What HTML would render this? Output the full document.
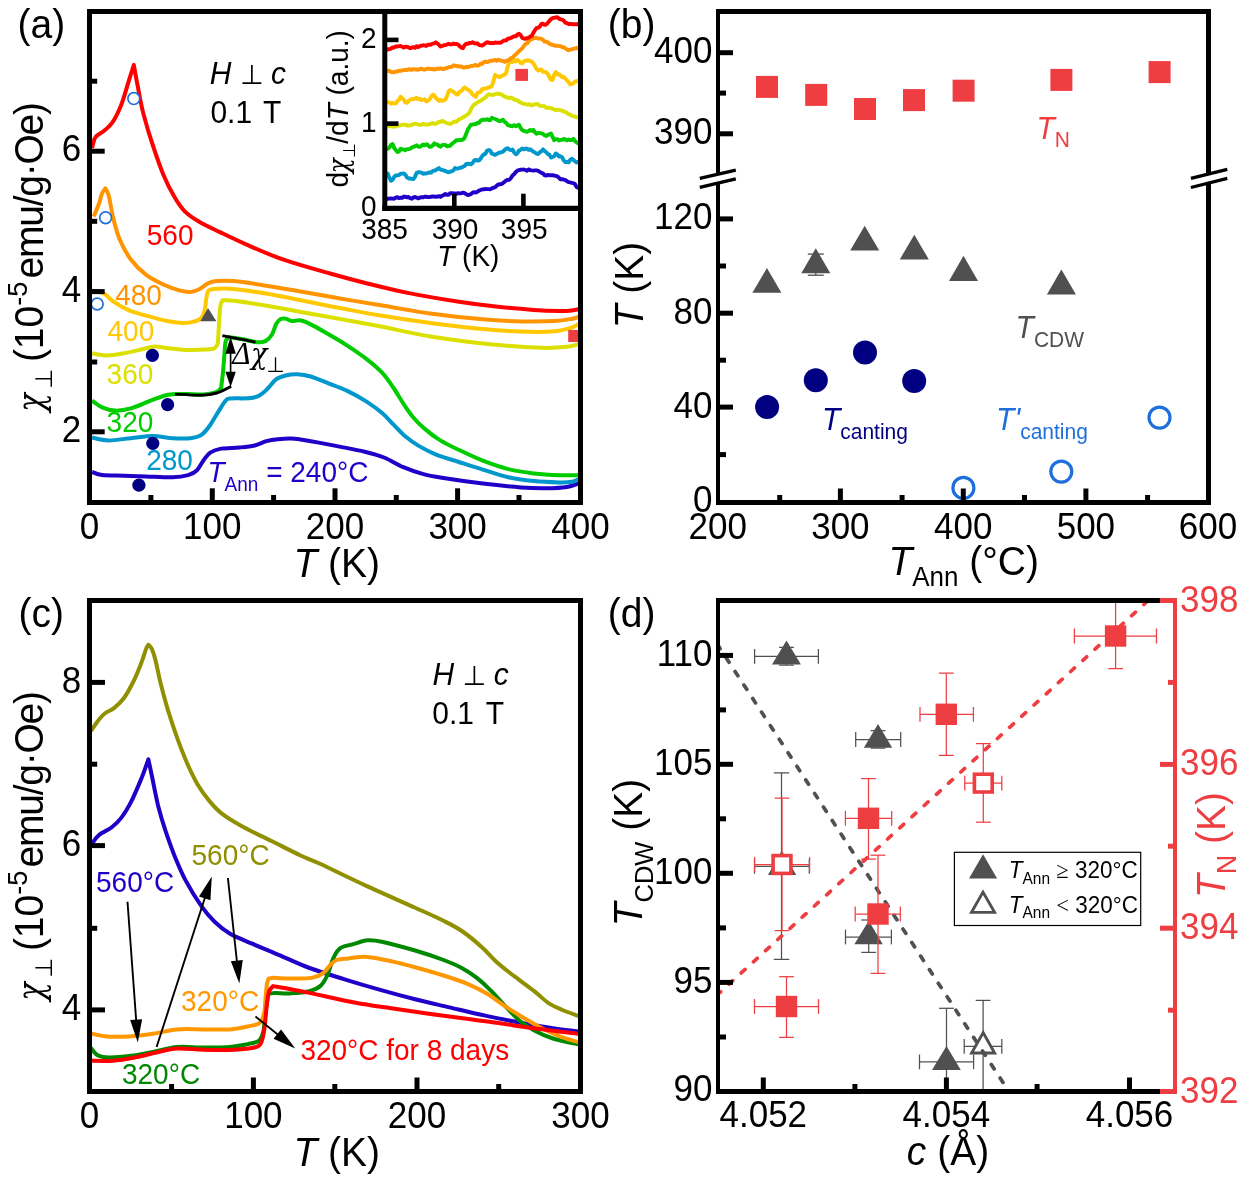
<!DOCTYPE html>
<html lang="en"><head><meta charset="utf-8"><title>Figure</title>
<style>html,body{margin:0;padding:0;background:#fff}svg{display:block}</style></head>
<body>
<svg width="1244" height="1178" viewBox="0 0 1244 1178" font-family='"Liberation Sans", sans-serif'>
<rect width="1244" height="1178" fill="#fff"/>
<defs>
<clipPath id="clipA"><rect x="89.6" y="11.5" width="491.3" height="490.5"/></clipPath>
<clipPath id="clipI"><rect x="384.8" y="11.5" width="196.1" height="196.9"/></clipPath>
<clipPath id="clipC"><rect x="90" y="600.8" width="490.8" height="490.2"/></clipPath>
<clipPath id="clipB"><rect x="718.6" y="11.5" width="490.2" height="490.5"/></clipPath>
<clipPath id="clipD"><rect x="718.7" y="600.8" width="456" height="490.6"/></clipPath>
</defs>
<g clip-path="url(#clipA)">
<path d="M92.1 472.0C93.8 472.5 96.8 474.5 102.1 475.1C107.4 475.7 116.8 475.5 124.1 475.7C131.4 475.9 138.1 476.1 146.2 476.4C154.3 476.7 165.7 477.5 172.7 477.3C179.7 477.1 184.0 476.3 188.1 475.1C192.2 473.9 194.4 472.7 197.0 470.2C199.6 467.7 201.4 463.2 203.6 460.3C205.8 457.4 207.3 454.6 210.2 452.6C213.1 450.7 216.3 449.5 221.2 448.6C226.0 447.8 233.7 448.0 239.3 447.5C244.9 447.0 250.2 446.6 254.7 445.5C259.2 444.4 262.4 442.2 266.3 441.1C270.2 440.1 273.7 439.6 277.9 439.2C282.1 438.8 286.6 438.4 291.4 438.6C296.2 438.8 299.4 439.3 306.8 440.5C314.2 441.7 326.2 444.0 335.8 445.9C345.4 447.8 356.7 449.8 364.7 451.7C372.7 453.6 377.6 454.9 384.0 457.5C390.4 460.1 396.9 464.5 403.3 467.2C409.7 469.9 416.2 472.1 422.6 473.9C429.0 475.7 431.9 476.2 441.9 477.8C451.9 479.4 469.6 482.0 482.8 483.6C496.0 485.2 510.4 486.6 521.0 487.4C531.6 488.2 538.9 488.3 546.5 488.2C554.1 488.1 561.6 487.7 566.9 486.9C572.2 486.1 575.8 484.4 578.3 483.6C580.8 482.8 581.4 482.3 582.0 482.0" fill="none" stroke="#2000C8" stroke-width="4" stroke-linejoin="round"/>
<path d="M92.1 437.5C94.9 438.0 102.2 440.3 108.7 440.4C115.2 440.5 123.5 438.9 130.8 438.2C138.2 437.5 145.8 436.0 152.8 436.0C159.8 436.0 166.4 437.8 172.7 438.2C179.0 438.6 185.6 438.8 190.4 438.2C195.2 437.6 198.1 437.1 201.4 434.9C204.7 432.7 207.3 429.1 210.2 425.0C213.1 420.9 216.4 414.7 219.0 410.6C221.6 406.6 223.8 402.7 225.7 400.7C227.5 398.7 225.9 398.9 230.1 398.5C234.3 398.1 245.8 398.7 250.9 398.1C256.0 397.5 257.6 396.5 260.5 394.8C263.4 393.1 265.6 390.6 268.2 388.0C270.8 385.4 273.1 381.5 276.0 379.4C278.9 377.3 282.1 376.4 285.6 375.5C289.1 374.6 293.0 374.0 297.2 374.2C301.4 374.4 305.6 375.0 310.7 376.5C315.8 378.0 321.9 380.8 328.0 383.2C334.1 385.6 340.9 387.8 347.3 390.9C353.7 394.0 360.8 397.9 366.6 401.6C372.4 405.3 377.6 409.2 382.1 413.1C386.6 417.0 389.8 420.8 393.6 424.7C397.5 428.6 401.0 432.8 405.2 436.3C409.4 439.8 413.5 442.8 418.7 445.9C423.9 448.9 429.7 452.0 436.1 454.6C442.6 457.2 449.6 459.0 457.4 461.5C465.2 464.0 474.3 467.0 482.8 469.6C491.3 472.2 499.8 475.4 508.3 477.3C516.8 479.2 525.3 480.2 533.8 481.1C542.3 482.0 552.8 482.3 559.2 482.4C565.6 482.5 568.8 482.3 572.0 481.8C575.2 481.3 576.6 480.0 578.3 479.3C580.0 478.6 581.4 477.8 582.0 477.5" fill="none" stroke="#0098CC" stroke-width="4" stroke-linejoin="round"/>
<path d="M92.1 400.7C93.8 401.8 98.2 405.6 102.1 407.3C106.0 409.0 110.5 410.4 115.3 410.6C120.1 410.8 124.9 410.0 130.8 408.4C136.7 406.8 144.3 403.0 150.6 400.7C156.8 398.4 162.4 395.8 168.3 394.7C174.2 393.6 180.0 394.1 185.9 394.1C191.8 394.1 198.4 394.9 203.6 394.5C208.8 394.1 213.9 393.1 216.8 391.9C219.7 390.7 220.5 388.2 221.2 387.5C221.5 384.9 222.4 377.9 223.0 372.0C223.6 366.1 224.2 357.2 224.6 352.1C225.0 347.0 225.0 343.6 225.7 341.1C226.4 338.6 228.4 337.8 229.0 337.1C231.4 337.5 238.7 338.5 243.3 339.3C247.9 340.1 252.9 341.9 256.6 342.2C260.3 342.5 262.8 342.4 265.4 341.1C268.0 339.8 270.2 337.4 272.0 334.5C273.8 331.6 274.9 326.1 276.4 323.5C277.9 320.9 279.3 319.8 280.8 319.0C282.3 318.2 283.8 318.3 285.6 318.6C287.4 318.9 288.8 320.6 291.4 320.9C294.0 321.2 297.8 319.9 301.0 320.5C304.2 321.1 306.2 322.1 310.7 324.4C315.2 326.6 321.9 330.5 328.0 334.0C334.1 337.5 340.9 341.4 347.3 345.6C353.7 349.8 360.8 354.6 366.6 359.1C372.4 363.6 377.6 367.8 382.1 372.6C386.6 377.4 390.1 382.9 393.6 388.0C397.1 393.1 400.1 398.7 403.3 403.5C406.5 408.3 409.4 412.8 412.9 417.0C416.4 421.2 420.0 424.8 424.5 428.6C429.0 432.5 434.4 436.7 439.9 440.1C445.4 443.5 450.2 445.8 457.4 449.2C464.5 452.6 474.3 457.4 482.8 460.7C491.3 464.0 499.8 467.0 508.3 469.1C516.8 471.2 525.3 472.4 533.8 473.4C542.3 474.4 551.2 474.9 559.2 475.2C567.2 475.5 578.2 475.2 582.0 475.2" fill="none" stroke="#00CC00" stroke-width="4" stroke-linejoin="round"/>
<path d="M92.1 353.3C94.5 353.7 101.2 355.5 106.5 355.5C111.8 355.5 117.5 354.5 124.1 353.3C130.7 352.1 141.0 349.3 146.2 348.2C151.3 347.1 151.3 346.6 155.0 346.6C158.7 346.6 163.2 347.6 168.3 348.2C173.5 348.8 179.7 349.7 185.9 349.9C192.2 350.1 201.0 349.8 205.8 349.5C210.6 349.2 212.6 349.2 214.6 348.2C216.6 347.2 217.3 344.1 217.9 343.3C218.1 340.0 218.6 329.8 219.0 323.5C219.4 317.2 219.8 309.7 220.4 305.8C221.0 301.9 222.2 301.2 222.6 300.3C224.6 300.4 226.9 299.9 234.5 300.8C242.1 301.8 254.5 303.7 268.2 306.0C281.9 308.3 298.8 311.5 316.5 314.7C334.2 317.9 355.2 321.6 374.4 325.3C393.6 329.0 413.8 333.7 431.9 336.7C450.0 339.7 467.9 341.8 482.8 343.5C497.7 345.2 510.4 346.1 521.0 346.8C531.6 347.5 538.9 347.9 546.5 347.9C554.1 347.9 561.6 347.4 566.9 346.8C572.2 346.2 575.8 344.9 578.3 344.3C580.8 343.7 581.4 343.2 582.0 343.0" fill="none" stroke="#DCE000" stroke-width="4" stroke-linejoin="round"/>
<path d="M92.5 290.5C94.5 291.0 100.9 291.9 104.3 293.7C107.7 295.5 109.0 298.6 113.1 301.4C117.1 304.1 123.1 307.8 128.6 310.2C134.1 312.6 139.6 313.8 146.2 315.7C152.8 317.6 162.1 320.1 168.3 321.3C174.6 322.5 179.3 323.0 183.7 323.0C188.1 323.0 191.9 322.2 194.8 321.3C197.8 320.4 199.8 319.8 201.4 317.9C203.1 316.0 203.9 313.3 204.7 310.2C205.5 307.1 205.6 302.3 206.2 299.2C206.8 296.1 207.0 293.2 208.0 291.5C209.0 289.8 208.7 289.6 212.4 289.2C216.1 288.8 220.9 288.1 230.1 288.8C239.3 289.6 255.8 291.8 267.6 293.7C279.4 295.6 288.6 297.9 300.7 300.3C312.8 302.7 326.6 305.5 340.0 308.0C353.4 310.5 365.6 313.0 380.9 315.5C396.2 318.0 414.9 320.9 431.9 323.2C448.9 325.4 467.9 327.6 482.8 329.0C497.7 330.4 509.5 331.2 521.0 331.6C532.5 332.0 543.5 332.2 551.6 331.6C559.7 331.1 565.0 329.5 569.4 328.3C573.8 327.1 576.2 325.4 578.3 324.4C580.4 323.4 581.4 322.8 582.0 322.5" fill="none" stroke="#FFC800" stroke-width="4" stroke-linejoin="round"/>
<path d="M93.7 216.4C94.5 214.4 97.4 208.2 98.8 204.3C100.2 200.4 101.0 195.8 102.1 193.2C103.2 190.5 104.9 189.2 105.4 188.4C106.0 189.6 107.4 190.6 108.7 195.4C110.0 200.2 111.3 210.1 113.1 217.5C114.9 224.9 116.8 232.6 119.7 239.6C122.7 246.6 126.4 253.6 130.8 259.5C135.2 265.4 140.7 270.7 146.2 274.9C151.7 279.1 158.4 282.2 163.9 284.8C169.4 287.4 174.9 289.2 179.3 290.4C183.7 291.6 187.1 292.1 190.4 291.9C193.7 291.7 196.3 290.6 199.2 289.2C202.1 287.8 205.1 284.6 208.0 283.3C210.9 282.0 212.4 281.5 216.8 281.1C221.2 280.7 226.0 280.3 234.5 281.1C243.0 281.9 256.6 284.2 267.6 285.9C278.6 287.6 288.6 289.4 300.7 291.5C312.8 293.6 326.6 296.2 340.0 298.5C353.4 300.8 365.6 302.8 380.9 305.3C396.2 307.8 414.9 311.4 431.9 313.7C448.9 316.0 467.9 318.0 482.8 319.3C497.7 320.6 509.1 321.1 521.0 321.4C532.9 321.7 545.6 321.5 554.1 321.1C562.6 320.7 568.0 319.5 572.0 318.8C576.0 318.1 576.6 317.4 578.3 316.8C580.0 316.2 581.4 315.7 582.0 315.5" fill="none" stroke="#FF9400" stroke-width="4" stroke-linejoin="round"/>
<path d="M92.1 148.0C92.2 147.5 92.2 146.8 92.8 145.0C93.4 143.2 93.7 139.4 95.6 137.0C97.5 134.6 101.3 133.2 104.1 130.7C106.9 128.2 109.8 126.5 112.6 122.2C115.4 118.0 118.4 111.9 121.1 105.2C123.8 98.5 126.4 88.5 128.5 81.8C130.6 75.1 132.9 67.8 133.8 65.0C134.5 68.9 136.5 80.1 138.1 88.2C139.7 96.3 140.9 104.2 143.4 113.7C145.9 123.2 149.5 135.2 152.9 145.5C156.3 155.8 160.1 166.8 163.6 175.3C167.1 183.8 170.7 190.5 174.2 196.5C177.7 202.5 180.6 207.2 184.8 211.4C189.0 215.7 193.6 218.5 199.6 222.0C205.6 225.5 212.4 228.5 220.9 232.6C229.4 236.7 239.9 241.8 250.6 246.4C261.3 251.0 271.8 255.7 285.0 260.2C298.2 264.7 316.1 269.6 330.0 273.5C343.9 277.4 355.5 280.5 368.2 283.7C380.9 286.9 391.5 289.6 406.4 292.6C421.3 295.6 442.5 299.2 457.4 301.5C472.3 303.8 482.9 305.2 495.6 306.6C508.3 308.0 523.2 309.2 533.8 309.9C544.4 310.6 552.8 310.8 559.2 310.9C565.6 311.0 568.8 310.7 572.0 310.4C575.2 310.1 576.6 309.6 578.3 309.2C580.0 308.8 581.4 308.2 582.0 308.0" fill="none" stroke="#FF0000" stroke-width="4" stroke-linejoin="round"/>
<line x1="222.40" y1="335.60" x2="255.50" y2="342.20" stroke="#000" stroke-width="2.9" />
<path d="M174.9 394.1C179.3 394.3 194.4 395.4 201.4 395.2C208.4 395.0 211.8 394.5 216.8 393.0C221.8 391.5 228.8 387.5 231.2 386.4" fill="none" stroke="#000" stroke-width="2.9" stroke-linejoin="round" stroke-linecap="butt" />
<path d="M230.60 336.80L235.80 353.80L225.40 353.80Z" fill="#000"/>
<path d="M230.60 387.00L225.40 371.80L235.80 371.80Z" fill="#000"/>
<line x1="230.60" y1="350.00" x2="230.60" y2="375.00" stroke="#000" stroke-width="1.6" />
<circle cx="133.80" cy="98.60" r="5.90" fill="#fff" stroke="#1E6EDC" stroke-width="1.7"/>
<circle cx="105.60" cy="217.80" r="5.90" fill="#fff" stroke="#1E6EDC" stroke-width="1.7"/>
<circle cx="97.20" cy="304.00" r="5.90" fill="#fff" stroke="#1E6EDC" stroke-width="1.7"/>
<circle cx="152.40" cy="355.40" r="6.60" fill="#000080" stroke="none" stroke-width="0"/>
<circle cx="167.60" cy="404.70" r="6.60" fill="#000080" stroke="none" stroke-width="0"/>
<circle cx="152.80" cy="443.30" r="6.60" fill="#000080" stroke="none" stroke-width="0"/>
<circle cx="138.90" cy="485.20" r="6.60" fill="#000080" stroke="none" stroke-width="0"/>
<path d="M208.00 308.00L216.40 321.30L200.30 321.30Z" fill="#505050" stroke="none" stroke-width="0" stroke-linejoin="miter"/>
<rect x="568.20" y="330.00" width="12.00" height="12.00" fill="#EE3E42" stroke="none" stroke-width="0" />
</g>
<g clip-path="url(#clipI)">
<path d="M383.0 198.2L384.6 199.2L386.2 199.4L387.8 198.6L389.4 198.6L391.0 198.4L392.6 198.6L394.2 198.7L395.8 197.6L397.4 197.1L399.0 198.1L400.6 197.6L402.2 197.9L403.8 196.6L405.4 196.8L407.0 197.4L408.6 197.0L410.2 198.2L411.8 198.7L413.4 197.4L415.0 197.0L416.6 197.6L418.2 198.4L419.8 197.7L421.4 197.2L423.0 197.4L424.6 196.7L426.2 196.8L427.8 197.0L429.4 197.1L431.0 196.7L432.6 196.5L434.2 196.5L435.8 196.8L437.4 196.7L439.0 196.2L440.6 196.8L442.2 195.7L443.8 195.0L445.4 194.0L447.0 194.8L448.6 194.7L450.2 193.3L451.8 193.1L453.4 193.5L455.0 193.5L456.6 193.8L458.2 193.1L459.8 193.4L461.4 193.3L463.0 192.6L464.6 193.1L466.2 194.2L467.8 195.0L469.4 194.6L471.0 194.1L472.6 192.7L474.2 192.2L475.8 192.6L477.4 191.8L479.0 190.6L480.6 190.0L482.2 189.4L483.8 189.3L485.4 189.0L487.0 189.1L488.6 189.1L490.2 189.2L491.8 188.4L493.4 187.7L495.0 187.4L496.6 185.8L498.2 184.5L499.8 184.3L501.4 184.1L503.0 183.1L504.6 181.8L506.2 180.4L507.8 179.9L509.4 179.9L511.0 177.9L512.6 175.3L514.2 174.2L515.8 172.0L517.4 170.6L519.0 170.1L520.6 169.7L522.2 169.6L523.8 169.5L525.4 170.0L527.0 170.8L528.6 169.4L530.2 170.1L531.8 170.4L533.4 170.6L535.0 170.4L536.6 170.4L538.2 170.8L539.8 171.8L541.4 172.8L543.0 173.3L544.6 175.4L546.2 175.6L547.8 174.9L549.4 175.2L551.0 175.3L552.6 175.3L554.2 175.5L555.8 176.0L557.4 176.4L559.0 177.8L560.6 179.4L562.2 179.2L563.8 179.7L565.4 180.1L567.0 181.2L568.6 182.1L570.2 182.4L571.8 182.8L573.4 183.1L575.0 184.2L576.6 187.0L578.2 187.9L579.8 187.0L581.4 186.6" fill="none" stroke="#2000C8" stroke-width="3.9" stroke-linejoin="round" />
<path d="M383.0 174.5L384.6 174.8L386.2 173.1L387.8 173.6L389.4 177.9L391.0 180.7L392.6 179.8L394.2 176.8L395.8 175.5L397.4 175.3L399.0 175.0L400.6 173.7L402.2 173.6L403.8 173.4L405.4 174.8L407.0 177.4L408.6 178.5L410.2 178.5L411.8 178.8L413.4 179.1L415.0 176.8L416.6 172.9L418.2 172.3L419.8 172.3L421.4 172.6L423.0 173.7L424.6 173.5L426.2 173.5L427.8 173.0L429.4 172.4L431.0 172.7L432.6 171.3L434.2 170.5L435.8 170.3L437.4 169.0L439.0 168.1L440.6 169.6L442.2 170.0L443.8 170.3L445.4 171.2L447.0 171.7L448.6 172.4L450.2 171.5L451.8 171.4L453.4 170.4L455.0 168.0L456.6 168.6L458.2 168.5L459.8 167.8L461.4 167.6L463.0 166.7L464.6 166.0L466.2 164.0L467.8 164.0L469.4 163.7L471.0 164.4L472.6 163.0L474.2 160.4L475.8 159.9L477.4 160.6L479.0 160.4L480.6 158.7L482.2 156.1L483.8 154.4L485.4 153.8L487.0 150.7L488.6 150.0L490.2 150.5L491.8 153.7L493.4 154.2L495.0 154.9L496.6 154.1L498.2 153.1L499.8 152.5L501.4 152.3L503.0 151.6L504.6 150.0L506.2 148.6L507.8 148.2L509.4 149.7L511.0 150.1L512.6 149.6L514.2 152.5L515.8 154.2L517.4 153.4L519.0 150.5L520.6 149.9L522.2 148.5L523.8 149.3L525.4 148.8L527.0 148.6L528.6 149.9L530.2 149.3L531.8 150.4L533.4 151.8L535.0 152.5L536.6 153.7L538.2 154.1L539.8 152.2L541.4 151.3L543.0 149.4L544.6 151.0L546.2 152.2L547.8 154.1L549.4 154.6L551.0 157.6L552.6 157.0L554.2 156.3L555.8 153.6L557.4 154.4L559.0 156.5L560.6 156.3L562.2 157.4L563.8 160.5L565.4 162.2L567.0 161.8L568.6 162.3L570.2 159.9L571.8 158.7L573.4 159.8L575.0 161.3L576.6 162.5L578.2 161.7L579.8 161.8L581.4 161.2" fill="none" stroke="#0098CC" stroke-width="3.9" stroke-linejoin="round" />
<path d="M383.0 148.7L384.6 149.2L386.2 148.9L387.8 148.8L389.4 147.6L391.0 144.9L392.6 144.1L394.2 148.0L395.8 150.1L397.4 152.0L399.0 151.6L400.6 148.8L402.2 149.4L403.8 149.5L405.4 150.2L407.0 149.2L408.6 149.1L410.2 148.9L411.8 147.4L413.4 146.9L415.0 146.3L416.6 145.3L418.2 146.6L419.8 146.9L421.4 145.9L423.0 144.5L424.6 145.3L426.2 144.3L427.8 144.9L429.4 146.8L431.0 146.9L432.6 145.5L434.2 143.3L435.8 144.4L437.4 144.5L439.0 146.0L440.6 146.7L442.2 145.2L443.8 144.9L445.4 144.9L447.0 146.4L448.6 145.8L450.2 145.7L451.8 144.0L453.4 142.8L455.0 141.3L456.6 140.2L458.2 140.3L459.8 139.9L461.4 140.1L463.0 139.5L464.6 137.9L466.2 133.7L467.8 129.8L469.4 127.0L471.0 124.7L472.6 124.5L474.2 124.2L475.8 124.0L477.4 123.0L479.0 122.8L480.6 120.6L482.2 119.7L483.8 119.6L485.4 119.8L487.0 119.3L488.6 120.1L490.2 120.1L491.8 117.8L493.4 118.5L495.0 119.0L496.6 119.6L498.2 120.7L499.8 121.1L501.4 120.7L503.0 119.8L504.6 121.9L506.2 122.7L507.8 125.2L509.4 125.4L511.0 126.1L512.6 126.2L514.2 125.2L515.8 126.2L517.4 125.4L519.0 124.8L520.6 127.9L522.2 130.1L523.8 130.9L525.4 131.4L527.0 131.9L528.6 131.0L530.2 130.0L531.8 130.9L533.4 129.9L535.0 132.3L536.6 133.7L538.2 132.9L539.8 133.0L541.4 133.3L543.0 133.8L544.6 135.3L546.2 136.0L547.8 134.9L549.4 134.3L551.0 133.6L552.6 136.8L554.2 140.1L555.8 139.3L557.4 139.1L559.0 140.5L560.6 139.9L562.2 139.8L563.8 138.9L565.4 139.6L567.0 140.4L568.6 139.5L570.2 140.1L571.8 140.1L573.4 138.9L575.0 141.0L576.6 142.4L578.2 143.5L579.8 142.9L581.4 143.5" fill="none" stroke="#00CC00" stroke-width="3.9" stroke-linejoin="round" />
<path d="M383.0 126.6L384.6 126.3L386.2 126.6L387.8 126.3L389.4 125.9L391.0 126.1L392.6 126.8L394.2 126.6L395.8 126.4L397.4 125.5L399.0 125.6L400.6 125.2L402.2 124.9L403.8 124.6L405.4 124.6L407.0 125.5L408.6 125.5L410.2 125.3L411.8 125.0L413.4 123.9L415.0 123.7L416.6 124.1L418.2 124.4L419.8 124.8L421.4 124.9L423.0 123.9L424.6 124.4L426.2 124.7L427.8 124.6L429.4 124.0L431.0 123.9L432.6 123.1L434.2 123.8L435.8 123.7L437.4 122.9L439.0 121.7L440.6 121.7L442.2 120.9L443.8 121.6L445.4 122.5L447.0 123.0L448.6 123.5L450.2 124.0L451.8 123.2L453.4 122.1L455.0 121.5L456.6 121.7L458.2 120.1L459.8 118.9L461.4 118.6L463.0 117.2L464.6 116.4L466.2 115.6L467.8 114.3L469.4 112.7L471.0 109.0L472.6 106.4L474.2 104.3L475.8 103.9L477.4 102.4L479.0 101.3L480.6 100.9L482.2 99.6L483.8 98.5L485.4 97.6L487.0 95.4L488.6 94.5L490.2 94.5L491.8 95.0L493.4 94.9L495.0 94.1L496.6 93.9L498.2 93.5L499.8 94.2L501.4 94.2L503.0 95.6L504.6 96.6L506.2 97.2L507.8 97.4L509.4 98.2L511.0 97.6L512.6 98.3L514.2 99.7L515.8 100.2L517.4 100.3L519.0 101.7L520.6 102.4L522.2 103.5L523.8 103.7L525.4 104.1L527.0 104.6L528.6 104.3L530.2 104.5L531.8 105.4L533.4 104.8L535.0 104.1L536.6 104.0L538.2 104.4L539.8 105.7L541.4 105.9L543.0 106.1L544.6 106.3L546.2 107.8L547.8 107.7L549.4 107.8L551.0 108.2L552.6 108.8L554.2 109.4L555.8 110.2L557.4 109.9L559.0 109.8L560.6 110.5L562.2 110.5L563.8 111.9L565.4 111.8L567.0 113.1L568.6 114.3L570.2 114.5L571.8 115.9L573.4 116.2L575.0 116.6L576.6 117.4L578.2 117.2L579.8 117.6L581.4 117.5" fill="none" stroke="#DCE000" stroke-width="3.9" stroke-linejoin="round" />
<path d="M383.0 100.8L384.6 101.1L386.2 101.3L387.8 102.0L389.4 102.5L391.0 103.7L392.6 102.8L394.2 103.5L395.8 103.3L397.4 101.1L399.0 99.8L400.6 96.7L402.2 98.0L403.8 99.8L405.4 102.4L407.0 102.9L408.6 100.8L410.2 99.8L411.8 98.8L413.4 99.2L415.0 98.7L416.6 97.8L418.2 99.3L419.8 98.8L421.4 100.0L423.0 99.6L424.6 99.3L426.2 101.4L427.8 100.7L429.4 99.5L431.0 97.0L432.6 94.8L434.2 95.1L435.8 98.1L437.4 99.3L439.0 100.9L440.6 99.8L442.2 100.8L443.8 100.4L445.4 99.4L447.0 96.2L448.6 91.5L450.2 90.0L451.8 90.7L453.4 91.9L455.0 93.0L456.6 94.5L458.2 94.1L459.8 91.5L461.4 91.0L463.0 88.9L464.6 87.4L466.2 88.6L467.8 89.6L469.4 90.6L471.0 92.0L472.6 94.7L474.2 95.5L475.8 96.9L477.4 93.1L479.0 92.3L480.6 91.9L482.2 89.0L483.8 89.0L485.4 88.1L487.0 88.4L488.6 87.3L490.2 87.0L491.8 86.2L493.4 81.4L495.0 74.8L496.6 75.9L498.2 76.7L499.8 77.2L501.4 76.1L503.0 75.3L504.6 74.7L506.2 72.9L507.8 66.2L509.4 62.3L511.0 62.0L512.6 62.1L514.2 60.1L515.8 61.4L517.4 59.8L519.0 61.0L520.6 62.9L522.2 63.4L523.8 61.1L525.4 60.9L527.0 60.3L528.6 60.5L530.2 61.2L531.8 61.7L533.4 63.5L535.0 66.0L536.6 69.2L538.2 70.6L539.8 69.6L541.4 69.5L543.0 71.9L544.6 71.9L546.2 72.4L547.8 74.0L549.4 77.0L551.0 79.9L552.6 80.0L554.2 74.5L555.8 72.0L557.4 74.6L559.0 74.2L560.6 75.7L562.2 77.3L563.8 76.9L565.4 78.7L567.0 80.5L568.6 82.0L570.2 84.4L571.8 84.1L573.4 83.3L575.0 81.4L576.6 81.5L578.2 80.2L579.8 80.3L581.4 81.5" fill="none" stroke="#FFC800" stroke-width="3.9" stroke-linejoin="round" />
<path d="M383.0 71.3L384.6 71.5L386.2 71.1L387.8 70.8L389.4 70.8L391.0 72.0L392.6 72.2L394.2 72.3L395.8 71.5L397.4 71.5L399.0 70.6L400.6 70.8L402.2 70.5L403.8 70.0L405.4 69.9L407.0 70.0L408.6 69.3L410.2 69.5L411.8 69.8L413.4 69.0L415.0 69.5L416.6 69.5L418.2 69.8L419.8 69.1L421.4 68.6L423.0 69.4L424.6 69.7L426.2 69.2L427.8 68.6L429.4 68.6L431.0 69.2L432.6 68.9L434.2 69.6L435.8 69.2L437.4 68.5L439.0 68.8L440.6 68.4L442.2 69.0L443.8 69.1L445.4 68.3L447.0 67.9L448.6 67.4L450.2 67.0L451.8 66.8L453.4 65.3L455.0 65.6L456.6 66.2L458.2 66.1L459.8 66.7L461.4 66.4L463.0 67.5L464.6 67.5L466.2 66.8L467.8 67.2L469.4 66.6L471.0 66.0L472.6 66.0L474.2 65.3L475.8 65.0L477.4 65.7L479.0 65.3L480.6 63.7L482.2 63.8L483.8 62.2L485.4 61.7L487.0 62.0L488.6 61.6L490.2 60.9L491.8 60.7L493.4 60.5L495.0 59.9L496.6 60.8L498.2 59.7L499.8 60.1L501.4 60.9L503.0 60.9L504.6 61.9L506.2 60.8L507.8 60.5L509.4 59.5L511.0 58.1L512.6 57.5L514.2 55.7L515.8 54.4L517.4 52.9L519.0 51.2L520.6 49.8L522.2 48.4L523.8 46.1L525.4 44.0L527.0 43.5L528.6 41.3L530.2 39.7L531.8 39.1L533.4 38.4L535.0 37.9L536.6 38.0L538.2 38.6L539.8 38.5L541.4 38.8L543.0 39.9L544.6 41.6L546.2 41.7L547.8 42.3L549.4 43.7L551.0 44.5L552.6 44.8L554.2 45.6L555.8 45.8L557.4 45.6L559.0 46.0L560.6 46.1L562.2 47.2L563.8 47.3L565.4 48.3L567.0 49.5L568.6 50.2L570.2 49.7L571.8 49.4L573.4 48.7L575.0 48.3L576.6 48.0L578.2 48.3L579.8 48.7L581.4 47.9" fill="none" stroke="#FF9400" stroke-width="3.9" stroke-linejoin="round" />
<path d="M383.0 49.7L384.6 49.3L386.2 50.1L387.8 49.1L389.4 49.3L391.0 48.6L392.6 47.4L394.2 47.5L395.8 46.4L397.4 46.5L399.0 46.1L400.6 46.0L402.2 46.7L403.8 47.6L405.4 46.7L407.0 46.7L408.6 47.4L410.2 48.2L411.8 47.7L413.4 47.1L415.0 47.8L416.6 46.2L418.2 47.1L419.8 46.2L421.4 45.6L423.0 45.3L424.6 45.4L426.2 46.0L427.8 44.7L429.4 44.7L431.0 44.5L432.6 43.6L434.2 43.4L435.8 42.3L437.4 43.3L439.0 45.0L440.6 46.5L442.2 46.0L443.8 45.2L445.4 45.1L447.0 44.5L448.6 43.8L450.2 44.4L451.8 44.4L453.4 43.6L455.0 44.0L456.6 44.0L458.2 44.6L459.8 46.3L461.4 47.7L463.0 48.2L464.6 45.2L466.2 43.8L467.8 43.8L469.4 42.8L471.0 43.1L472.6 42.3L474.2 43.2L475.8 43.6L477.4 43.3L479.0 44.9L480.6 45.4L482.2 45.5L483.8 44.5L485.4 43.4L487.0 42.2L488.6 42.5L490.2 43.2L491.8 42.8L493.4 43.2L495.0 42.4L496.6 42.9L498.2 42.6L499.8 42.8L501.4 42.3L503.0 41.0L504.6 40.4L506.2 40.3L507.8 38.7L509.4 38.6L511.0 37.8L512.6 37.2L514.2 36.2L515.8 36.4L517.4 34.6L519.0 33.8L520.6 35.1L522.2 37.9L523.8 38.5L525.4 38.9L527.0 38.1L528.6 37.6L530.2 36.6L531.8 35.8L533.4 32.7L535.0 30.1L536.6 28.0L538.2 27.7L539.8 26.6L541.4 23.9L543.0 23.8L544.6 24.9L546.2 24.5L547.8 22.8L549.4 20.9L551.0 19.1L552.6 18.0L554.2 17.9L555.8 17.4L557.4 17.3L559.0 18.7L560.6 19.3L562.2 19.6L563.8 20.7L565.4 22.7L567.0 23.2L568.6 24.2L570.2 23.9L571.8 24.0L573.4 24.3L575.0 24.1L576.6 24.4L578.2 24.0L579.8 24.8L581.4 24.0" fill="none" stroke="#FF0000" stroke-width="3.9" stroke-linejoin="round" />
</g>
<rect x="515.40" y="68.90" width="12.60" height="12.00" fill="#EE3E42" stroke="none" stroke-width="0" />
<rect x="89.50" y="11.50" width="491.00" height="491.00" fill="none" stroke="#000" stroke-width="5" />
<line x1="384.80" y1="11.50" x2="384.80" y2="210.90" stroke="#000" stroke-width="5" />
<line x1="382.30" y1="208.40" x2="580.50" y2="208.40" stroke="#000" stroke-width="5.4" />
<line x1="89.50" y1="151.20" x2="104.70" y2="151.20" stroke="#000" stroke-width="5" />
<text x="81.20" y="161.20" font-size="35" fill="#000" text-anchor="end" transform="translate(81.20 161.20) scale(1 1.035) translate(-81.20 -161.20)" >6</text>
<line x1="89.50" y1="291.60" x2="104.70" y2="291.60" stroke="#000" stroke-width="5" />
<text x="81.20" y="301.60" font-size="35" fill="#000" text-anchor="end" transform="translate(81.20 301.60) scale(1 1.035) translate(-81.20 -301.60)" >4</text>
<line x1="89.50" y1="431.80" x2="104.70" y2="431.80" stroke="#000" stroke-width="5" />
<text x="81.20" y="441.80" font-size="35" fill="#000" text-anchor="end" transform="translate(81.20 441.80) scale(1 1.035) translate(-81.20 -441.80)" >2</text>
<line x1="89.50" y1="81.20" x2="97.20" y2="81.20" stroke="#000" stroke-width="5" />
<line x1="89.50" y1="221.30" x2="97.20" y2="221.30" stroke="#000" stroke-width="5" />
<line x1="89.50" y1="362.00" x2="97.20" y2="362.00" stroke="#000" stroke-width="5" />
<text x="89.50" y="538.80" font-size="35" fill="#000" text-anchor="middle" transform="translate(89.50 538.80) scale(1 1.035) translate(-89.50 -538.80)" >0</text>
<line x1="212.30" y1="502.50" x2="212.30" y2="488.30" stroke="#000" stroke-width="5" />
<text x="212.30" y="538.80" font-size="35" fill="#000" text-anchor="middle" transform="translate(212.30 538.80) scale(1 1.035) translate(-212.30 -538.80)" >100</text>
<line x1="335.00" y1="502.50" x2="335.00" y2="488.30" stroke="#000" stroke-width="5" />
<text x="335.00" y="538.80" font-size="35" fill="#000" text-anchor="middle" transform="translate(335.00 538.80) scale(1 1.035) translate(-335.00 -538.80)" >200</text>
<line x1="457.60" y1="502.50" x2="457.60" y2="488.30" stroke="#000" stroke-width="5" />
<text x="457.60" y="538.80" font-size="35" fill="#000" text-anchor="middle" transform="translate(457.60 538.80) scale(1 1.035) translate(-457.60 -538.80)" >300</text>
<text x="580.50" y="538.80" font-size="35" fill="#000" text-anchor="middle" transform="translate(580.50 538.80) scale(1 1.035) translate(-580.50 -538.80)" >400</text>
<line x1="150.90" y1="502.50" x2="150.90" y2="495.00" stroke="#000" stroke-width="5" />
<line x1="273.60" y1="502.50" x2="273.60" y2="495.00" stroke="#000" stroke-width="5" />
<line x1="396.30" y1="502.50" x2="396.30" y2="495.00" stroke="#000" stroke-width="5" />
<line x1="519.00" y1="502.50" x2="519.00" y2="495.00" stroke="#000" stroke-width="5" />
<line x1="384.80" y1="39.90" x2="398.50" y2="39.90" stroke="#000" stroke-width="4.6" />
<line x1="384.80" y1="123.60" x2="398.50" y2="123.60" stroke="#000" stroke-width="4.6" />
<text x="376.50" y="48.10" font-size="28" fill="#000" text-anchor="end" transform="translate(376.50 48.10) scale(1 1.035) translate(-376.50 -48.10)" >2</text>
<text x="376.50" y="131.80" font-size="28" fill="#000" text-anchor="end" transform="translate(376.50 131.80) scale(1 1.035) translate(-376.50 -131.80)" >1</text>
<text x="376.50" y="216.50" font-size="28" fill="#000" text-anchor="end" transform="translate(376.50 216.50) scale(1 1.035) translate(-376.50 -216.50)" >0</text>
<text x="384.50" y="239.20" font-size="28" fill="#000" text-anchor="middle" transform="translate(384.50 239.20) scale(1 1.035) translate(-384.50 -239.20)" >385</text>
<line x1="454.30" y1="208.40" x2="454.30" y2="193.70" stroke="#000" stroke-width="4.6" />
<text x="455.10" y="239.20" font-size="28" fill="#000" text-anchor="middle" transform="translate(455.10 239.20) scale(1 1.035) translate(-455.10 -239.20)" >390</text>
<line x1="523.40" y1="208.40" x2="523.40" y2="193.70" stroke="#000" stroke-width="4.6" />
<text x="524.20" y="239.20" font-size="28" fill="#000" text-anchor="middle" transform="translate(524.20 239.20) scale(1 1.035) translate(-524.20 -239.20)" >395</text>
<text x="468.30" y="266.00" font-size="28" fill="#000" text-anchor="middle" transform="translate(468.30 266.00) scale(1 1.035) translate(-468.30 -266.00)" ><tspan font-style="italic">T</tspan> (K)</text>
<g transform="translate(347.9 186.4) rotate(-90)">
<text x="-1.20" y="0.00" font-size="28" fill="#000" text-anchor="start" transform="translate(-1.20 0.00) scale(1 1.035) translate(1.20 0.00)" >d</text>
<text x="13.20" y="0.50" font-size="27" fill="#000" text-anchor="start" font-family='"DejaVu Serif", "Liberation Serif", serif' font-style="italic" textLength="15" lengthAdjust="spacingAndGlyphs">χ</text>
<text x="28.60" y="6.90" font-size="17" fill="#000" text-anchor="start" font-family='"DejaVu Sans", sans-serif' >⊥</text>
<text x="42.70" y="0.00" font-size="28" fill="#000" text-anchor="start" transform="translate(42.70 0.00) scale(1 1.035) translate(-42.70 0.00)" >/d<tspan font-style="italic">T</tspan> (a.u.)</text>
</g>
<text x="146.80" y="245.30" font-size="28" fill="#FF0000" text-anchor="start" transform="translate(146.80 245.30) scale(1 1.035) translate(-146.80 -245.30)" >560</text>
<text x="115.20" y="304.70" font-size="28" fill="#FF9400" text-anchor="start" transform="translate(115.20 304.70) scale(1 1.035) translate(-115.20 -304.70)" >480</text>
<text x="107.50" y="341.40" font-size="28" fill="#FFC800" text-anchor="start" transform="translate(107.50 341.40) scale(1 1.035) translate(-107.50 -341.40)" >400</text>
<text x="106.60" y="383.70" font-size="28" fill="#DCE000" text-anchor="start" transform="translate(106.60 383.70) scale(1 1.035) translate(-106.60 -383.70)" >360</text>
<text x="106.60" y="432.30" font-size="28" fill="#00CC00" text-anchor="start" transform="translate(106.60 432.30) scale(1 1.035) translate(-106.60 -432.30)" >320</text>
<text x="146.20" y="469.90" font-size="28" fill="#0098CC" text-anchor="start" transform="translate(146.20 469.90) scale(1 1.035) translate(-146.20 -469.90)" >280</text>
<text x="207.50" y="482.30" font-size="28" fill="#2000C8" text-anchor="start" transform="translate(207.50 482.30) scale(1 1.035) translate(-207.50 -482.30)" ><tspan font-style="italic">T</tspan><tspan font-size="19" dy="8.3">Ann</tspan><tspan dy="-8.3"> = 240°C</tspan></text>
<text x="209.70" y="83.90" font-size="30" fill="#000" text-anchor="start" transform="translate(209.70 83.90) scale(1 1.035) translate(-209.70 -83.90)" font-style="italic">H</text>
<text x="252.05" y="83.90" font-size="27" fill="#000" text-anchor="middle" font-family='"DejaVu Sans", sans-serif' >⊥</text>
<text x="270.90" y="83.90" font-size="30" fill="#000" text-anchor="start" transform="translate(270.90 83.90) scale(1 1.035) translate(-270.90 -83.90)" font-style="italic">c</text>
<text x="210.40" y="122.60" font-size="30" fill="#000" text-anchor="start" transform="translate(210.40 122.60) scale(1 1.035) translate(-210.40 -122.60)" word-spacing="3.2">0.1 T</text>
<text x="232.20" y="363.80" font-size="31" fill="#000" text-anchor="start" font-family='"Liberation Serif", serif' font-style="italic">Δ</text>
<text x="251.00" y="364.00" font-size="29.5" fill="#000" text-anchor="start" font-family='"DejaVu Serif", "Liberation Serif", serif' font-style="italic" textLength="16.5" lengthAdjust="spacingAndGlyphs">χ</text>
<text x="266.30" y="371.60" font-size="21" fill="#000" text-anchor="start" font-family='"DejaVu Sans", sans-serif' >⊥</text>
<text x="17.50" y="38.00" font-size="39" fill="#000" text-anchor="start" transform="translate(17.50 38.00) scale(1 1.035) translate(-17.50 -38.00)" >(a)</text>
<text x="336.70" y="577.00" font-size="39" fill="#000" text-anchor="middle" transform="translate(336.70 577.00) scale(1 1.035) translate(-336.70 -577.00)" ><tspan font-style="italic">T</tspan> (K)</text>
<g transform="translate(42.60 412.00) rotate(-90)">
<text x="0.30" y="0.00" font-size="36" fill="#000" text-anchor="start" transform="translate(0.30 0.00) scale(1 1.035) translate(-0.30 0.00)" font-family='"DejaVu Serif", "Liberation Serif", serif' font-style="italic" textLength="18.5" lengthAdjust="spacingAndGlyphs">χ</text>
<text x="23.30" y="9.00" font-size="23" fill="#000" text-anchor="start" transform="translate(23.30 9.00) scale(1 1.035) translate(-23.30 -9.00)" font-family='"DejaVu Sans", sans-serif' >⊥</text>
<text x="49.90" y="0.00" font-size="39" fill="#000" text-anchor="start" transform="translate(49.90 0.00) scale(1 1.035) translate(-49.90 0.00)" >(10</text>
<text x="106.20" y="-16.00" font-size="27" fill="#000" text-anchor="start" transform="translate(106.20 -16.00) scale(1 1.035) translate(-106.20 16.00)" >-5</text>
<text x="133.50" y="0.00" font-size="39" fill="#000" text-anchor="start" transform="translate(133.50 0.00) scale(1 1.035) translate(-133.50 0.00)" textLength="176.5" lengthAdjust="spacing">emu/g·Oe)</text>
</g>
<g clip-path="url(#clipB)">
<circle cx="963.40" cy="487.90" r="10.50" fill="#fff" stroke="#1E6EDC" stroke-width="3.2"/>
<circle cx="1061.30" cy="471.60" r="10.50" fill="#fff" stroke="#1E6EDC" stroke-width="3.2"/>
<circle cx="1159.50" cy="417.60" r="10.50" fill="#fff" stroke="#1E6EDC" stroke-width="3.2"/>
</g>
<line x1="716.00" y1="11.50" x2="1211.00" y2="11.50" stroke="#000" stroke-width="5" />
<line x1="716.00" y1="502.50" x2="1211.00" y2="502.50" stroke="#000" stroke-width="5" />
<line x1="718.00" y1="9.00" x2="718.00" y2="505.00" stroke="#000" stroke-width="4" />
<line x1="1208.50" y1="9.00" x2="1208.50" y2="505.00" stroke="#000" stroke-width="5" />
<path d="M699.8 178.3L735.8 170.1L735.8 178.8L699.8 187.3Z" fill="#fff"/>
<path d="M1190.9 178.4L1227.3 169.3L1227.3 178.4L1190.9 187.5Z" fill="#fff"/>
<line x1="699.80" y1="178.30" x2="735.80" y2="170.10" stroke="#000" stroke-width="3.3" />
<line x1="699.80" y1="187.30" x2="735.80" y2="178.80" stroke="#000" stroke-width="3.3" />
<line x1="1190.90" y1="178.40" x2="1227.30" y2="169.30" stroke="#000" stroke-width="3.3" />
<line x1="1190.90" y1="187.50" x2="1227.30" y2="178.40" stroke="#000" stroke-width="3.3" />
<line x1="720.00" y1="52.70" x2="733.00" y2="52.70" stroke="#000" stroke-width="5" />
<text x="712.50" y="63.20" font-size="35" fill="#000" text-anchor="end" transform="translate(712.50 63.20) scale(1 1.035) translate(-712.50 -63.20)" >400</text>
<line x1="720.00" y1="133.80" x2="733.00" y2="133.80" stroke="#000" stroke-width="5" />
<text x="712.50" y="144.30" font-size="35" fill="#000" text-anchor="end" transform="translate(712.50 144.30) scale(1 1.035) translate(-712.50 -144.30)" >390</text>
<line x1="720.00" y1="218.90" x2="733.00" y2="218.90" stroke="#000" stroke-width="5" />
<text x="712.50" y="229.40" font-size="35" fill="#000" text-anchor="end" transform="translate(712.50 229.40) scale(1 1.035) translate(-712.50 -229.40)" >120</text>
<line x1="720.00" y1="313.20" x2="733.00" y2="313.20" stroke="#000" stroke-width="5" />
<text x="712.50" y="323.70" font-size="35" fill="#000" text-anchor="end" transform="translate(712.50 323.70) scale(1 1.035) translate(-712.50 -323.70)" >80</text>
<line x1="720.00" y1="407.10" x2="733.00" y2="407.10" stroke="#000" stroke-width="5" />
<text x="712.50" y="417.60" font-size="35" fill="#000" text-anchor="end" transform="translate(712.50 417.60) scale(1 1.035) translate(-712.50 -417.60)" >40</text>
<text x="712.50" y="512.50" font-size="35" fill="#000" text-anchor="end" transform="translate(712.50 512.50) scale(1 1.035) translate(-712.50 -512.50)" >0</text>
<line x1="720.00" y1="93.10" x2="726.00" y2="93.10" stroke="#000" stroke-width="5" />
<line x1="720.00" y1="266.00" x2="726.00" y2="266.00" stroke="#000" stroke-width="5" />
<line x1="720.00" y1="360.20" x2="726.00" y2="360.20" stroke="#000" stroke-width="5" />
<line x1="720.00" y1="454.60" x2="726.00" y2="454.60" stroke="#000" stroke-width="5" />
<text x="717.80" y="538.80" font-size="35" fill="#000" text-anchor="middle" transform="translate(717.80 538.80) scale(1 1.035) translate(-717.80 -538.80)" >200</text>
<line x1="840.40" y1="500.00" x2="840.40" y2="488.50" stroke="#000" stroke-width="5" />
<text x="840.40" y="538.80" font-size="35" fill="#000" text-anchor="middle" transform="translate(840.40 538.80) scale(1 1.035) translate(-840.40 -538.80)" >300</text>
<line x1="963.30" y1="500.00" x2="963.30" y2="488.50" stroke="#000" stroke-width="5" />
<text x="963.30" y="538.80" font-size="35" fill="#000" text-anchor="middle" transform="translate(963.30 538.80) scale(1 1.035) translate(-963.30 -538.80)" >400</text>
<line x1="1085.90" y1="500.00" x2="1085.90" y2="488.50" stroke="#000" stroke-width="5" />
<text x="1085.90" y="538.80" font-size="35" fill="#000" text-anchor="middle" transform="translate(1085.90 538.80) scale(1 1.035) translate(-1085.90 -538.80)" >500</text>
<text x="1208.00" y="538.80" font-size="35" fill="#000" text-anchor="middle" transform="translate(1208.00 538.80) scale(1 1.035) translate(-1208.00 -538.80)" >600</text>
<line x1="779.70" y1="500.00" x2="779.70" y2="495.00" stroke="#000" stroke-width="5" />
<line x1="902.10" y1="500.00" x2="902.10" y2="495.00" stroke="#000" stroke-width="5" />
<line x1="1024.50" y1="500.00" x2="1024.50" y2="495.00" stroke="#000" stroke-width="5" />
<line x1="1147.60" y1="500.00" x2="1147.60" y2="495.00" stroke="#000" stroke-width="5" />
<rect x="756.00" y="75.90" width="22.00" height="22.00" fill="#EE3E42" stroke="none" stroke-width="0" />
<rect x="805.20" y="83.90" width="22.00" height="22.00" fill="#EE3E42" stroke="none" stroke-width="0" />
<rect x="854.00" y="98.00" width="22.00" height="22.00" fill="#EE3E42" stroke="none" stroke-width="0" />
<rect x="903.00" y="89.10" width="22.00" height="22.00" fill="#EE3E42" stroke="none" stroke-width="0" />
<rect x="952.60" y="79.70" width="22.00" height="22.00" fill="#EE3E42" stroke="none" stroke-width="0" />
<rect x="1050.40" y="68.90" width="22.00" height="22.00" fill="#EE3E42" stroke="none" stroke-width="0" />
<rect x="1148.60" y="61.10" width="22.00" height="22.00" fill="#EE3E42" stroke="none" stroke-width="0" />
<line x1="815.80" y1="254.10" x2="815.80" y2="275.20" stroke="#505050" stroke-width="1.3" />
<line x1="807.80" y1="254.10" x2="823.80" y2="254.10" stroke="#505050" stroke-width="1.3" />
<line x1="807.80" y1="275.20" x2="823.80" y2="275.20" stroke="#505050" stroke-width="1.3" />
<path d="M766.90 268.10L781.40 292.80L752.40 292.80Z" fill="#505050" stroke="none" stroke-width="0" stroke-linejoin="miter"/>
<path d="M815.80 248.30L830.30 273.30L801.30 273.30Z" fill="#505050" stroke="none" stroke-width="0" stroke-linejoin="miter"/>
<path d="M864.70 225.70L879.20 250.40L850.20 250.40Z" fill="#505050" stroke="none" stroke-width="0" stroke-linejoin="miter"/>
<path d="M914.30 234.70L928.80 259.40L899.80 259.40Z" fill="#505050" stroke="none" stroke-width="0" stroke-linejoin="miter"/>
<path d="M963.50 255.80L978.00 280.90L949.00 280.90Z" fill="#505050" stroke="none" stroke-width="0" stroke-linejoin="miter"/>
<path d="M1061.40 269.60L1075.90 294.40L1046.90 294.40Z" fill="#505050" stroke="none" stroke-width="0" stroke-linejoin="miter"/>
<circle cx="767.10" cy="407.10" r="12.00" fill="#000080" stroke="none" stroke-width="0"/>
<circle cx="815.80" cy="380.30" r="12.00" fill="#000080" stroke="none" stroke-width="0"/>
<circle cx="865.00" cy="352.40" r="12.00" fill="#000080" stroke="none" stroke-width="0"/>
<circle cx="914.20" cy="381.10" r="12.00" fill="#000080" stroke="none" stroke-width="0"/>
<text x="1036.40" y="138.80" font-size="30" fill="#EE3E42" text-anchor="start" transform="translate(1036.40 138.80) scale(1 1.035) translate(-1036.40 -138.80)" ><tspan font-style="italic">T</tspan><tspan font-size="21" dy="7.7">N</tspan></text>
<text x="1015.60" y="337.80" font-size="30" fill="#505050" text-anchor="start" transform="translate(1015.60 337.80) scale(1 1.035) translate(-1015.60 -337.80)" ><tspan font-style="italic">T</tspan><tspan font-size="21" dy="8.9">CDW</tspan></text>
<text x="821.90" y="430.00" font-size="30" fill="#000080" text-anchor="start" transform="translate(821.90 430.00) scale(1 1.035) translate(-821.90 -430.00)" ><tspan font-style="italic">T</tspan><tspan font-size="21" dy="8.3">canting</tspan></text>
<text x="996.10" y="429.90" font-size="30" fill="#1E6EDC" text-anchor="start" transform="translate(996.10 429.90) scale(1 1.035) translate(-996.10 -429.90)" ><tspan font-style="italic">T'</tspan><tspan font-size="21" dy="8.6">canting</tspan></text>
<text x="888.40" y="575.00" font-size="39" fill="#000" text-anchor="start" transform="translate(888.40 575.00) scale(1 1.035) translate(-888.40 -575.00)" ><tspan font-style="italic">T</tspan><tspan font-size="26" dy="10.3">Ann</tspan><tspan dy="-10.3"> (°C)</tspan></text>
<text x="643.50" y="285.00" font-size="39" fill="#000" text-anchor="middle" transform="rotate(-90 643.50 285.00) translate(643.50 285.00) scale(1 1.035) translate(-643.50 -285.00)" ><tspan font-style="italic">T</tspan> (K)</text>
<text x="607.80" y="38.00" font-size="39" fill="#000" text-anchor="start" transform="translate(607.80 38.00) scale(1 1.035) translate(-607.80 -38.00)" >(b)</text>
<g clip-path="url(#clipC)">
<path d="M91.0 731.0C91.3 730.5 91.7 729.8 93.1 727.8C94.5 725.8 97.2 721.7 99.2 719.2C101.2 716.7 102.9 714.9 105.4 713.0C107.9 711.1 110.9 710.6 114.0 708.1C117.1 705.6 120.5 702.8 123.8 698.3C127.1 693.8 130.8 686.8 133.7 681.0C136.6 675.2 138.9 669.1 141.0 663.8C143.1 658.5 144.8 652.3 146.0 649.1C147.2 645.9 148.0 645.5 148.4 644.8C149.0 645.6 150.9 646.7 152.1 649.5C153.3 652.3 154.4 655.7 155.8 661.4C157.2 667.1 158.6 675.3 160.7 683.5C162.8 691.7 165.2 701.2 168.1 710.6C171.0 720.0 174.7 731.1 178.0 740.1C181.3 749.1 184.5 757.3 187.8 764.7C191.1 772.1 193.9 778.2 197.6 784.4C201.3 790.5 205.8 796.7 209.9 801.6C214.0 806.5 216.9 809.8 222.2 813.9C227.5 818.0 233.7 821.7 241.9 826.2C250.1 830.7 261.8 836.2 271.5 841.0C281.2 845.8 291.9 851.4 300.0 855.2C308.1 859.0 308.8 858.6 320.0 863.8C331.2 869.0 351.6 879.1 367.5 886.4C383.4 893.7 402.4 902.0 415.1 907.7C427.8 913.4 435.7 916.8 443.6 920.8C451.5 924.8 456.3 927.1 462.6 931.5C468.9 935.9 475.7 941.6 481.6 947.0C487.6 952.4 492.8 958.6 498.3 963.6C503.9 968.6 509.0 972.2 514.9 976.7C520.8 981.2 528.3 986.5 533.9 990.9C539.5 995.2 543.4 999.6 548.2 1002.8C553.0 1006.0 557.5 1007.8 562.5 1010.0C567.5 1012.2 575.1 1014.7 578.4 1015.9C581.6 1017.1 581.4 1016.8 582.0 1017.0" fill="none" stroke="#8F8F00" stroke-width="4" stroke-linejoin="round"/>
<path d="M91.0 847.0C91.3 846.2 91.7 844.2 93.1 842.2C94.5 840.2 96.1 837.2 99.2 834.8C102.3 832.3 107.8 830.4 111.5 827.5C115.2 824.6 118.1 821.9 121.4 817.6C124.7 813.3 127.9 808.0 131.2 801.6C134.5 795.2 138.1 786.5 141.0 779.5C143.9 772.5 147.2 762.7 148.4 759.3C149.0 762.2 150.4 769.1 152.1 777.0C153.8 784.9 156.1 797.5 158.3 806.5C160.6 815.5 162.7 822.5 165.6 831.1C168.5 839.7 172.2 850.1 175.5 858.2C178.8 866.3 181.0 871.9 185.3 879.9C189.6 887.9 196.5 899.2 201.4 906.2C206.3 913.2 209.8 917.1 214.6 921.7C219.4 926.3 223.8 930.1 230.1 933.8C236.4 937.5 244.1 940.2 252.2 943.7C260.3 947.2 269.1 950.8 278.6 954.8C288.2 958.8 298.6 964.0 309.5 968.0C320.4 972.0 332.2 975.5 343.8 979.1C355.4 982.7 367.5 986.3 379.4 989.7C391.3 993.1 403.2 996.3 415.1 999.3C427.0 1002.3 438.8 1004.8 450.7 1007.6C462.6 1010.4 474.5 1013.3 486.4 1015.9C498.3 1018.5 510.1 1020.8 522.0 1023.0C533.9 1025.2 547.7 1027.5 557.7 1029.0C567.7 1030.5 578.0 1031.2 582.0 1031.7" fill="none" stroke="#2000C8" stroke-width="4" stroke-linejoin="round"/>
<path d="M91.0 1048.0C92.1 1049.2 94.8 1053.6 97.7 1055.2C100.7 1056.8 103.2 1057.3 108.7 1057.4C114.2 1057.5 123.1 1056.8 130.8 1055.8C138.5 1054.8 147.3 1052.9 155.0 1051.4C162.7 1049.9 169.0 1047.7 177.1 1047.0C185.2 1046.3 194.8 1047.5 203.6 1047.5C212.4 1047.5 222.8 1047.6 230.1 1047.0C237.4 1046.4 242.9 1045.1 247.7 1044.1C252.5 1043.1 256.2 1042.8 258.8 1040.8C261.4 1038.8 262.1 1036.4 263.2 1032.0C264.3 1027.6 264.7 1019.8 265.4 1014.3C266.1 1008.8 266.7 1002.4 267.6 998.9C268.5 995.4 267.2 994.3 270.9 993.4C274.6 992.5 283.3 993.8 289.7 993.4C296.1 993.0 304.4 992.5 309.5 991.2C314.6 989.9 317.6 988.4 320.6 985.7C323.6 983.0 325.4 979.5 327.5 975.0C329.6 970.5 331.0 963.3 333.1 958.8C335.2 954.3 336.8 950.7 340.2 948.2C343.6 945.8 348.8 945.4 353.3 944.1C357.9 942.8 362.8 940.7 367.5 940.3C372.2 939.9 373.9 940.0 381.8 941.7C389.7 943.4 404.8 947.5 415.1 950.5C425.4 953.5 435.7 957.0 443.6 960.0C451.5 963.0 457.1 965.4 462.6 968.4C468.2 971.4 472.1 974.1 476.9 977.9C481.6 981.6 486.4 986.1 491.1 990.9C495.9 995.6 500.6 1001.4 505.4 1006.4C510.2 1011.4 515.0 1016.7 519.7 1020.7C524.5 1024.7 528.4 1027.2 533.9 1030.2C539.4 1033.2 544.9 1036.0 552.9 1038.5C560.9 1041.0 577.1 1043.9 582.0 1045.0" fill="none" stroke="#008800" stroke-width="4" stroke-linejoin="round"/>
<path d="M91.0 1033.5C93.6 1034.0 100.2 1035.9 106.5 1036.4C112.8 1036.9 120.9 1036.8 128.6 1036.4C136.3 1036.0 144.7 1035.0 152.8 1033.8C160.9 1032.6 168.6 1030.1 177.1 1029.4C185.6 1028.7 194.8 1029.4 203.6 1029.4C212.4 1029.4 222.8 1029.9 230.1 1029.4C237.4 1028.9 242.7 1027.6 247.7 1026.5C252.7 1025.4 257.1 1025.1 259.9 1022.7C262.7 1020.3 263.3 1016.8 264.3 1012.1C265.3 1007.4 265.2 999.6 265.8 994.5C266.4 989.4 266.6 984.0 267.6 981.2C268.6 978.4 268.3 978.3 272.0 977.9C275.7 977.5 283.1 978.6 289.7 978.6C296.3 978.6 306.2 978.8 311.7 977.9C317.2 977.0 319.8 975.5 322.8 973.5C325.8 971.5 327.2 968.2 329.5 966.0C331.8 963.8 333.4 961.3 336.6 960.0C339.8 958.7 343.4 958.9 348.5 958.4C353.6 957.9 360.4 956.4 367.5 956.9C374.6 957.4 383.4 959.5 391.3 961.2C399.2 962.9 406.4 964.8 415.1 967.2C423.8 969.6 434.9 972.7 443.6 975.5C452.3 978.3 460.3 980.8 467.4 983.8C474.5 986.8 480.1 989.5 486.4 993.3C492.7 997.1 499.1 1002.2 505.4 1006.4C511.7 1010.6 518.1 1014.5 524.4 1018.3C530.7 1022.1 537.0 1025.8 543.4 1029.0C549.8 1032.2 556.1 1035.0 562.5 1037.3C568.9 1039.6 578.8 1042.0 582.0 1043.0" fill="none" stroke="#FF9800" stroke-width="4" stroke-linejoin="round"/>
<path d="M91.0 1060.7C94.7 1060.7 105.7 1061.2 113.1 1060.7C120.5 1060.2 127.8 1058.8 135.2 1057.4C142.5 1056.0 150.2 1053.8 157.2 1052.3C164.2 1050.8 169.4 1049.0 177.1 1048.6C184.8 1048.2 194.0 1049.5 203.6 1049.7C213.2 1049.9 226.0 1050.1 234.5 1049.7C243.0 1049.3 250.0 1048.6 254.4 1047.5C258.8 1046.4 259.4 1046.0 261.0 1043.0C262.6 1040.0 263.4 1035.7 264.3 1029.8C265.2 1023.9 265.8 1014.0 266.5 1007.7C267.2 1001.5 267.6 995.9 268.7 992.3C269.8 988.7 272.4 987.1 273.1 986.1C275.9 986.6 283.3 987.8 289.7 989.0C296.1 990.2 300.7 991.1 311.7 993.4C322.7 995.7 342.4 1000.3 355.7 1002.8C369.0 1005.3 379.4 1006.5 391.3 1008.3C403.2 1010.1 415.1 1011.8 427.0 1013.5C438.9 1015.2 450.7 1016.7 462.6 1018.3C474.5 1019.9 486.4 1021.3 498.3 1023.0C510.2 1024.7 519.9 1026.4 533.9 1028.3C547.9 1030.2 574.0 1033.3 582.0 1034.3" fill="none" stroke="#FF0000" stroke-width="4" stroke-linejoin="round"/>
<path d="M137.80 1042.60L130.14 1020.10L142.11 1019.22Z" fill="#000"/>
<line x1="127.50" y1="901.80" x2="136.63" y2="1026.54" stroke="#000" stroke-width="1.9" />
<path d="M211.80 876.40L210.43 900.13L199.01 896.44Z" fill="#000"/>
<line x1="156.60" y1="1047.00" x2="206.84" y2="891.72" stroke="#000" stroke-width="1.9" />
<path d="M239.30 983.50L230.86 961.28L242.79 959.99Z" fill="#000"/>
<line x1="227.90" y1="878.00" x2="237.57" y2="967.49" stroke="#000" stroke-width="1.9" />
<path d="M295.20 1048.60L273.53 1038.84L281.06 1029.49Z" fill="#000"/>
<line x1="255.50" y1="1016.60" x2="282.67" y2="1038.50" stroke="#000" stroke-width="1.9" />
</g>
<rect x="89.50" y="600.50" width="491.00" height="491.00" fill="none" stroke="#000" stroke-width="5" />
<line x1="89.50" y1="682.40" x2="105.00" y2="682.40" stroke="#000" stroke-width="5" />
<text x="81.20" y="692.90" font-size="35" fill="#000" text-anchor="end" transform="translate(81.20 692.90) scale(1 1.035) translate(-81.20 -692.90)" >8</text>
<line x1="89.50" y1="845.60" x2="105.00" y2="845.60" stroke="#000" stroke-width="5" />
<text x="81.20" y="856.10" font-size="35" fill="#000" text-anchor="end" transform="translate(81.20 856.10) scale(1 1.035) translate(-81.20 -856.10)" >6</text>
<line x1="89.50" y1="1009.90" x2="105.00" y2="1009.90" stroke="#000" stroke-width="5" />
<text x="81.20" y="1020.40" font-size="35" fill="#000" text-anchor="end" transform="translate(81.20 1020.40) scale(1 1.035) translate(-81.20 -1020.40)" >4</text>
<line x1="89.50" y1="764.20" x2="97.20" y2="764.20" stroke="#000" stroke-width="5" />
<line x1="89.50" y1="928.30" x2="97.20" y2="928.30" stroke="#000" stroke-width="5" />
<text x="89.50" y="1127.80" font-size="35" fill="#000" text-anchor="middle" transform="translate(89.50 1127.80) scale(1 1.035) translate(-89.50 -1127.80)" >0</text>
<line x1="253.40" y1="1091.50" x2="253.40" y2="1077.50" stroke="#000" stroke-width="5" />
<text x="253.40" y="1127.80" font-size="35" fill="#000" text-anchor="middle" transform="translate(253.40 1127.80) scale(1 1.035) translate(-253.40 -1127.80)" >100</text>
<line x1="417.00" y1="1091.50" x2="417.00" y2="1077.50" stroke="#000" stroke-width="5" />
<text x="417.00" y="1127.80" font-size="35" fill="#000" text-anchor="middle" transform="translate(417.00 1127.80) scale(1 1.035) translate(-417.00 -1127.80)" >200</text>
<text x="580.50" y="1127.80" font-size="35" fill="#000" text-anchor="middle" transform="translate(580.50 1127.80) scale(1 1.035) translate(-580.50 -1127.80)" >300</text>
<line x1="171.60" y1="1091.50" x2="171.60" y2="1084.00" stroke="#000" stroke-width="5" />
<line x1="334.80" y1="1091.50" x2="334.80" y2="1084.00" stroke="#000" stroke-width="5" />
<line x1="498.70" y1="1091.50" x2="498.70" y2="1084.00" stroke="#000" stroke-width="5" />
<text x="96.00" y="892.20" font-size="28" fill="#2000C8" text-anchor="start" transform="translate(96.00 892.20) scale(1 1.035) translate(-96.00 -892.20)" >560°C</text>
<text x="191.50" y="865.00" font-size="28" fill="#8F8F00" text-anchor="start" transform="translate(191.50 865.00) scale(1 1.035) translate(-191.50 -865.00)" >560°C</text>
<text x="181.00" y="1011.40" font-size="28" fill="#FF9800" text-anchor="start" transform="translate(181.00 1011.40) scale(1 1.035) translate(-181.00 -1011.40)" >320°C</text>
<text x="122.00" y="1083.80" font-size="28" fill="#008800" text-anchor="start" transform="translate(122.00 1083.80) scale(1 1.035) translate(-122.00 -1083.80)" >320°C</text>
<text x="300.40" y="1060.00" font-size="28" fill="#FF0000" text-anchor="start" transform="translate(300.40 1060.00) scale(1 1.035) translate(-300.40 -1060.00)" >320°C for 8 days</text>
<text x="432.60" y="685.00" font-size="30" fill="#000" text-anchor="start" transform="translate(432.60 685.00) scale(1 1.035) translate(-432.60 -685.00)" font-style="italic">H</text>
<text x="474.50" y="685.00" font-size="27" fill="#000" text-anchor="middle" font-family='"DejaVu Sans", sans-serif' >⊥</text>
<text x="493.80" y="685.00" font-size="30" fill="#000" text-anchor="start" transform="translate(493.80 685.00) scale(1 1.035) translate(-493.80 -685.00)" font-style="italic">c</text>
<text x="432.20" y="724.00" font-size="30" fill="#000" text-anchor="start" transform="translate(432.20 724.00) scale(1 1.035) translate(-432.20 -724.00)" word-spacing="4">0.1 T</text>
<text x="18.50" y="627.00" font-size="39" fill="#000" text-anchor="start" transform="translate(18.50 627.00) scale(1 1.035) translate(-18.50 -627.00)" >(c)</text>
<text x="336.70" y="1166.00" font-size="39" fill="#000" text-anchor="middle" transform="translate(336.70 1166.00) scale(1 1.035) translate(-336.70 -1166.00)" ><tspan font-style="italic">T</tspan> (K)</text>
<g transform="translate(42.60 1001.00) rotate(-90)">
<text x="0.30" y="0.00" font-size="36" fill="#000" text-anchor="start" transform="translate(0.30 0.00) scale(1 1.035) translate(-0.30 0.00)" font-family='"DejaVu Serif", "Liberation Serif", serif' font-style="italic" textLength="18.5" lengthAdjust="spacingAndGlyphs">χ</text>
<text x="23.30" y="9.00" font-size="23" fill="#000" text-anchor="start" transform="translate(23.30 9.00) scale(1 1.035) translate(-23.30 -9.00)" font-family='"DejaVu Sans", sans-serif' >⊥</text>
<text x="49.90" y="0.00" font-size="39" fill="#000" text-anchor="start" transform="translate(49.90 0.00) scale(1 1.035) translate(-49.90 0.00)" >(10</text>
<text x="106.20" y="-16.00" font-size="27" fill="#000" text-anchor="start" transform="translate(106.20 -16.00) scale(1 1.035) translate(-106.20 16.00)" >-5</text>
<text x="133.50" y="0.00" font-size="39" fill="#000" text-anchor="start" transform="translate(133.50 0.00) scale(1 1.035) translate(-133.50 0.00)" textLength="176.5" lengthAdjust="spacing">emu/g·Oe)</text>
</g>
<g clip-path="url(#clipD)">
<line x1="754.60" y1="656.40" x2="818.40" y2="656.40" stroke="#505050" stroke-width="1.25" />
<line x1="754.60" y1="649.00" x2="754.60" y2="663.80" stroke="#505050" stroke-width="1.25" />
<line x1="818.40" y1="649.00" x2="818.40" y2="663.80" stroke="#505050" stroke-width="1.25" />
<line x1="786.50" y1="647.40" x2="786.50" y2="665.00" stroke="#505050" stroke-width="1.25" />
<line x1="779.10" y1="647.40" x2="793.90" y2="647.40" stroke="#505050" stroke-width="1.25" />
<line x1="779.10" y1="665.00" x2="793.90" y2="665.00" stroke="#505050" stroke-width="1.25" />
<path d="M786.50 640.40L800.90 664.40L772.00 664.40Z" fill="#505050" stroke="none" stroke-width="0" stroke-linejoin="miter"/>
<line x1="855.70" y1="739.50" x2="900.70" y2="739.50" stroke="#505050" stroke-width="1.25" />
<line x1="855.70" y1="732.10" x2="855.70" y2="746.90" stroke="#505050" stroke-width="1.25" />
<line x1="900.70" y1="732.10" x2="900.70" y2="746.90" stroke="#505050" stroke-width="1.25" />
<line x1="878.00" y1="730.50" x2="878.00" y2="748.00" stroke="#505050" stroke-width="1.25" />
<line x1="870.60" y1="730.50" x2="885.40" y2="730.50" stroke="#505050" stroke-width="1.25" />
<line x1="870.60" y1="748.00" x2="885.40" y2="748.00" stroke="#505050" stroke-width="1.25" />
<path d="M878.00 724.00L892.20 747.70L863.90 747.70Z" fill="#505050" stroke="none" stroke-width="0" stroke-linejoin="miter"/>
<line x1="754.50" y1="866.40" x2="809.30" y2="866.40" stroke="#505050" stroke-width="1.25" />
<line x1="754.50" y1="859.00" x2="754.50" y2="873.80" stroke="#505050" stroke-width="1.25" />
<line x1="809.30" y1="859.00" x2="809.30" y2="873.80" stroke="#505050" stroke-width="1.25" />
<line x1="781.50" y1="772.90" x2="781.50" y2="959.40" stroke="#505050" stroke-width="1.25" />
<line x1="773.80" y1="772.90" x2="789.20" y2="772.90" stroke="#505050" stroke-width="1.25" />
<line x1="773.80" y1="959.40" x2="789.20" y2="959.40" stroke="#505050" stroke-width="1.25" />
<path d="M781.80 850.50L796.30 874.90L768.00 874.90Z" fill="#505050" stroke="none" stroke-width="0" stroke-linejoin="miter"/>
<line x1="845.50" y1="937.00" x2="891.40" y2="937.00" stroke="#505050" stroke-width="1.25" />
<line x1="845.50" y1="929.60" x2="845.50" y2="944.40" stroke="#505050" stroke-width="1.25" />
<line x1="891.40" y1="929.60" x2="891.40" y2="944.40" stroke="#505050" stroke-width="1.25" />
<line x1="868.70" y1="920.00" x2="868.70" y2="952.40" stroke="#505050" stroke-width="1.25" />
<line x1="861.30" y1="920.00" x2="876.10" y2="920.00" stroke="#505050" stroke-width="1.25" />
<line x1="861.30" y1="952.40" x2="876.10" y2="952.40" stroke="#505050" stroke-width="1.25" />
<path d="M868.70 920.80L882.80 944.30L854.40 944.30Z" fill="#505050" stroke="none" stroke-width="0" stroke-linejoin="miter"/>
<line x1="919.50" y1="1061.80" x2="973.60" y2="1061.80" stroke="#505050" stroke-width="1.25" />
<line x1="919.50" y1="1054.40" x2="919.50" y2="1069.20" stroke="#505050" stroke-width="1.25" />
<line x1="973.60" y1="1054.40" x2="973.60" y2="1069.20" stroke="#505050" stroke-width="1.25" />
<line x1="946.50" y1="1008.30" x2="946.50" y2="1115.00" stroke="#505050" stroke-width="1.25" />
<line x1="939.10" y1="1008.30" x2="953.90" y2="1008.30" stroke="#505050" stroke-width="1.25" />
<line x1="939.10" y1="1115.00" x2="953.90" y2="1115.00" stroke="#505050" stroke-width="1.25" />
<path d="M946.50 1045.90L960.80 1070.10L932.00 1070.10Z" fill="#505050" stroke="none" stroke-width="0" stroke-linejoin="miter"/>
<line x1="964.20" y1="1046.30" x2="1001.80" y2="1046.30" stroke="#505050" stroke-width="1.25" />
<line x1="964.20" y1="1038.90" x2="964.20" y2="1053.70" stroke="#505050" stroke-width="1.25" />
<line x1="1001.80" y1="1038.90" x2="1001.80" y2="1053.70" stroke="#505050" stroke-width="1.25" />
<line x1="983.10" y1="1000.40" x2="983.10" y2="1115.00" stroke="#505050" stroke-width="1.25" />
<line x1="975.70" y1="1000.40" x2="990.50" y2="1000.40" stroke="#505050" stroke-width="1.25" />
<line x1="975.70" y1="1115.00" x2="990.50" y2="1115.00" stroke="#505050" stroke-width="1.25" />
<path d="M983.2 1032.6L994.6 1053.05L971.6 1053.05Z" fill="#fff" stroke="#505050" stroke-width="2.9"/>
<line x1="718.00" y1="645.30" x2="1004.00" y2="1084.00" stroke="#505050" stroke-width="3.7" stroke-dasharray="5.2 10.98" stroke-dashoffset="1.15" stroke-linecap="round"/>
<line x1="718.80" y1="993.50" x2="1155.00" y2="594.30" stroke="#EE3E42" stroke-width="3.7" stroke-dasharray="5.2 11.34" stroke-dashoffset="2.7" stroke-linecap="round"/>
<line x1="754.50" y1="1006.50" x2="818.50" y2="1006.50" stroke="#EE3E42" stroke-width="1.25" />
<line x1="754.50" y1="999.10" x2="754.50" y2="1013.90" stroke="#EE3E42" stroke-width="1.25" />
<line x1="818.50" y1="999.10" x2="818.50" y2="1013.90" stroke="#EE3E42" stroke-width="1.25" />
<line x1="786.50" y1="976.70" x2="786.50" y2="1037.40" stroke="#EE3E42" stroke-width="1.25" />
<line x1="779.10" y1="976.70" x2="793.90" y2="976.70" stroke="#EE3E42" stroke-width="1.25" />
<line x1="779.10" y1="1037.40" x2="793.90" y2="1037.40" stroke="#EE3E42" stroke-width="1.25" />
<rect x="775.80" y="995.80" width="21.40" height="21.40" fill="#EE3E42" stroke="none" stroke-width="0" />
<line x1="754.60" y1="864.50" x2="809.60" y2="864.50" stroke="#EE3E42" stroke-width="1.25" />
<line x1="754.60" y1="857.10" x2="754.60" y2="871.90" stroke="#EE3E42" stroke-width="1.25" />
<line x1="809.60" y1="857.10" x2="809.60" y2="871.90" stroke="#EE3E42" stroke-width="1.25" />
<line x1="782.00" y1="798.10" x2="782.00" y2="930.60" stroke="#EE3E42" stroke-width="1.25" />
<line x1="774.60" y1="798.10" x2="789.40" y2="798.10" stroke="#EE3E42" stroke-width="1.25" />
<line x1="774.60" y1="930.60" x2="789.40" y2="930.60" stroke="#EE3E42" stroke-width="1.25" />
<rect x="773.10" y="855.60" width="17.80" height="17.80" fill="#fff" stroke="#EE3E42" stroke-width="3.6" />
<line x1="845.40" y1="818.30" x2="891.70" y2="818.30" stroke="#EE3E42" stroke-width="1.25" />
<line x1="845.40" y1="810.90" x2="845.40" y2="825.70" stroke="#EE3E42" stroke-width="1.25" />
<line x1="891.70" y1="810.90" x2="891.70" y2="825.70" stroke="#EE3E42" stroke-width="1.25" />
<line x1="868.50" y1="778.60" x2="868.50" y2="859.10" stroke="#EE3E42" stroke-width="1.25" />
<line x1="861.10" y1="778.60" x2="875.90" y2="778.60" stroke="#EE3E42" stroke-width="1.25" />
<line x1="861.10" y1="859.10" x2="875.90" y2="859.10" stroke="#EE3E42" stroke-width="1.25" />
<rect x="857.80" y="807.60" width="21.40" height="21.40" fill="#EE3E42" stroke="none" stroke-width="0" />
<line x1="855.20" y1="914.00" x2="900.30" y2="914.00" stroke="#EE3E42" stroke-width="1.25" />
<line x1="855.20" y1="906.60" x2="855.20" y2="921.40" stroke="#EE3E42" stroke-width="1.25" />
<line x1="900.30" y1="906.60" x2="900.30" y2="921.40" stroke="#EE3E42" stroke-width="1.25" />
<line x1="878.00" y1="855.20" x2="878.00" y2="973.40" stroke="#EE3E42" stroke-width="1.25" />
<line x1="870.60" y1="855.20" x2="885.40" y2="855.20" stroke="#EE3E42" stroke-width="1.25" />
<line x1="870.60" y1="973.40" x2="885.40" y2="973.40" stroke="#EE3E42" stroke-width="1.25" />
<rect x="867.30" y="903.30" width="21.40" height="21.40" fill="#EE3E42" stroke="none" stroke-width="0" />
<line x1="920.00" y1="714.30" x2="973.40" y2="714.30" stroke="#EE3E42" stroke-width="1.25" />
<line x1="920.00" y1="706.90" x2="920.00" y2="721.70" stroke="#EE3E42" stroke-width="1.25" />
<line x1="973.40" y1="706.90" x2="973.40" y2="721.70" stroke="#EE3E42" stroke-width="1.25" />
<line x1="946.30" y1="673.20" x2="946.30" y2="755.30" stroke="#EE3E42" stroke-width="1.25" />
<line x1="938.90" y1="673.20" x2="953.70" y2="673.20" stroke="#EE3E42" stroke-width="1.25" />
<line x1="938.90" y1="755.30" x2="953.70" y2="755.30" stroke="#EE3E42" stroke-width="1.25" />
<rect x="935.60" y="703.60" width="21.40" height="21.40" fill="#EE3E42" stroke="none" stroke-width="0" />
<line x1="964.80" y1="783.10" x2="1001.80" y2="783.10" stroke="#EE3E42" stroke-width="1.25" />
<line x1="964.80" y1="775.70" x2="964.80" y2="790.50" stroke="#EE3E42" stroke-width="1.25" />
<line x1="1001.80" y1="775.70" x2="1001.80" y2="790.50" stroke="#EE3E42" stroke-width="1.25" />
<line x1="983.30" y1="743.60" x2="983.30" y2="822.20" stroke="#EE3E42" stroke-width="1.25" />
<line x1="975.90" y1="743.60" x2="990.70" y2="743.60" stroke="#EE3E42" stroke-width="1.25" />
<line x1="975.90" y1="822.20" x2="990.70" y2="822.20" stroke="#EE3E42" stroke-width="1.25" />
<rect x="974.40" y="774.20" width="17.80" height="17.80" fill="#fff" stroke="#EE3E42" stroke-width="3.6" />
<line x1="1074.40" y1="636.00" x2="1156.50" y2="636.00" stroke="#EE3E42" stroke-width="1.25" />
<line x1="1074.40" y1="628.60" x2="1074.40" y2="643.40" stroke="#EE3E42" stroke-width="1.25" />
<line x1="1156.50" y1="628.60" x2="1156.50" y2="643.40" stroke="#EE3E42" stroke-width="1.25" />
<line x1="1115.60" y1="590.00" x2="1115.60" y2="668.60" stroke="#EE3E42" stroke-width="1.25" />
<line x1="1108.20" y1="590.00" x2="1123.00" y2="590.00" stroke="#EE3E42" stroke-width="1.25" />
<line x1="1108.20" y1="668.60" x2="1123.00" y2="668.60" stroke="#EE3E42" stroke-width="1.25" />
<rect x="1104.90" y="625.30" width="21.40" height="21.40" fill="#EE3E42" stroke="none" stroke-width="0" />
</g>
<rect x="954.40" y="852.30" width="186.30" height="73.20" fill="#fff" stroke="#000" stroke-width="1.2" />
<path d="M983.00 854.30L997.10 878.40L969.00 878.40Z" fill="#505050" stroke="none" stroke-width="0" stroke-linejoin="miter"/>
<path d="M983 892.1L994.6 912.35L971.5 912.35Z" fill="#fff" stroke="#505050" stroke-width="2.9"/>
<text x="1008.80" y="878.00" font-size="22.5" fill="#000" text-anchor="start" transform="translate(1008.80 878.00) scale(1 1.035) translate(-1008.80 -878.00)" ><tspan font-style="italic">T</tspan><tspan font-size="15.5" dy="5.7">Ann</tspan><tspan dy="-5.7"> </tspan><tspan font-family='"Liberation Serif", serif'>≥</tspan> 320°C</text>
<text x="1008.80" y="912.60" font-size="22.5" fill="#000" text-anchor="start" transform="translate(1008.80 912.60) scale(1 1.035) translate(-1008.80 -912.60)" ><tspan font-style="italic">T</tspan><tspan font-size="15.5" dy="5.7">Ann</tspan><tspan dy="-5.7"> </tspan><tspan font-family='"Liberation Serif", serif'>&lt;</tspan> 320°C</text>
<line x1="716.00" y1="600.50" x2="1160.00" y2="600.50" stroke="#000" stroke-width="5" />
<line x1="716.00" y1="1091.50" x2="1160.00" y2="1091.50" stroke="#000" stroke-width="5" />
<line x1="718.00" y1="598.00" x2="718.00" y2="1094.00" stroke="#000" stroke-width="4" />
<line x1="1175.00" y1="598.00" x2="1175.00" y2="1094.00" stroke="#EE3E42" stroke-width="4" />
<line x1="1160.00" y1="600.50" x2="1177.00" y2="600.50" stroke="#EE3E42" stroke-width="5" />
<line x1="1160.00" y1="1091.50" x2="1177.00" y2="1091.50" stroke="#EE3E42" stroke-width="5" />
<line x1="720.00" y1="655.40" x2="733.00" y2="655.40" stroke="#000" stroke-width="5" />
<text x="712.50" y="665.90" font-size="35" fill="#000" text-anchor="end" transform="translate(712.50 665.90) scale(1 1.035) translate(-712.50 -665.90)" >110</text>
<line x1="720.00" y1="764.30" x2="733.00" y2="764.30" stroke="#000" stroke-width="5" />
<text x="712.50" y="774.80" font-size="35" fill="#000" text-anchor="end" transform="translate(712.50 774.80) scale(1 1.035) translate(-712.50 -774.80)" >105</text>
<line x1="720.00" y1="873.30" x2="733.00" y2="873.30" stroke="#000" stroke-width="5" />
<text x="712.50" y="883.80" font-size="35" fill="#000" text-anchor="end" transform="translate(712.50 883.80) scale(1 1.035) translate(-712.50 -883.80)" >100</text>
<line x1="720.00" y1="982.40" x2="733.00" y2="982.40" stroke="#000" stroke-width="5" />
<text x="712.50" y="992.90" font-size="35" fill="#000" text-anchor="end" transform="translate(712.50 992.90) scale(1 1.035) translate(-712.50 -992.90)" >95</text>
<text x="712.50" y="1101.00" font-size="35" fill="#000" text-anchor="end" transform="translate(712.50 1101.00) scale(1 1.035) translate(-712.50 -1101.00)" >90</text>
<line x1="720.00" y1="709.90" x2="726.00" y2="709.90" stroke="#000" stroke-width="5" />
<line x1="720.00" y1="818.80" x2="726.00" y2="818.80" stroke="#000" stroke-width="5" />
<line x1="720.00" y1="927.90" x2="726.00" y2="927.90" stroke="#000" stroke-width="5" />
<line x1="720.00" y1="1037.00" x2="726.00" y2="1037.00" stroke="#000" stroke-width="5" />
<line x1="763.30" y1="1089.00" x2="763.30" y2="1077.50" stroke="#000" stroke-width="5" />
<text x="763.30" y="1127.50" font-size="35" fill="#000" text-anchor="middle" transform="translate(763.30 1127.50) scale(1 1.035) translate(-763.30 -1127.50)" >4.052</text>
<line x1="946.40" y1="1089.00" x2="946.40" y2="1077.50" stroke="#000" stroke-width="5" />
<text x="946.40" y="1127.50" font-size="35" fill="#000" text-anchor="middle" transform="translate(946.40 1127.50) scale(1 1.035) translate(-946.40 -1127.50)" >4.054</text>
<line x1="1129.50" y1="1089.00" x2="1129.50" y2="1077.50" stroke="#000" stroke-width="5" />
<text x="1129.50" y="1127.50" font-size="35" fill="#000" text-anchor="middle" transform="translate(1129.50 1127.50) scale(1 1.035) translate(-1129.50 -1127.50)" >4.056</text>
<line x1="854.90" y1="1089.00" x2="854.90" y2="1084.00" stroke="#000" stroke-width="5" />
<line x1="1037.10" y1="1089.00" x2="1037.10" y2="1084.00" stroke="#000" stroke-width="5" />
<line x1="1160.00" y1="764.40" x2="1173.00" y2="764.40" stroke="#EE3E42" stroke-width="5" />
<line x1="1160.00" y1="928.20" x2="1173.00" y2="928.20" stroke="#EE3E42" stroke-width="5" />
<text x="1180.00" y="611.60" font-size="35" fill="#EE3E42" text-anchor="start" transform="translate(1180.00 611.60) scale(1 1.035) translate(-1180.00 -611.60)" >398</text>
<text x="1180.00" y="775.40" font-size="35" fill="#EE3E42" text-anchor="start" transform="translate(1180.00 775.40) scale(1 1.035) translate(-1180.00 -775.40)" >396</text>
<text x="1180.00" y="939.20" font-size="35" fill="#EE3E42" text-anchor="start" transform="translate(1180.00 939.20) scale(1 1.035) translate(-1180.00 -939.20)" >394</text>
<text x="1180.00" y="1102.70" font-size="35" fill="#EE3E42" text-anchor="start" transform="translate(1180.00 1102.70) scale(1 1.035) translate(-1180.00 -1102.70)" >392</text>
<line x1="1168.00" y1="682.40" x2="1173.00" y2="682.40" stroke="#EE3E42" stroke-width="5" />
<line x1="1168.00" y1="846.20" x2="1173.00" y2="846.20" stroke="#EE3E42" stroke-width="5" />
<line x1="1168.00" y1="1010.20" x2="1173.00" y2="1010.20" stroke="#EE3E42" stroke-width="5" />
<text x="607.80" y="627.00" font-size="39" fill="#000" text-anchor="start" transform="translate(607.80 627.00) scale(1 1.035) translate(-607.80 -627.00)" >(d)</text>
<text x="948.00" y="1165.50" font-size="39" fill="#000" text-anchor="middle" transform="translate(948.00 1165.50) scale(1 1.035) translate(-948.00 -1165.50)" ><tspan font-style="italic">c</tspan> (Å)</text>
<text x="642.50" y="852.50" font-size="39" fill="#000" text-anchor="middle" transform="rotate(-90 642.50 852.50) translate(642.50 852.50) scale(1 1.035) translate(-642.50 -852.50)" ><tspan font-style="italic">T</tspan><tspan font-size="25.5" dy="10.5">CDW</tspan><tspan dy="-10.5"> (K)</tspan></text>
<text x="1225.00" y="845.00" font-size="39" fill="#EE3E42" text-anchor="middle" transform="rotate(-90 1225.00 845.00) translate(1225.00 845.00) scale(1 1.035) translate(-1225.00 -845.00)" ><tspan font-style="italic">T</tspan><tspan font-size="27" dy="10.5">N</tspan><tspan dy="-10.5"> (K)</tspan></text>
</svg>
</body></html>
